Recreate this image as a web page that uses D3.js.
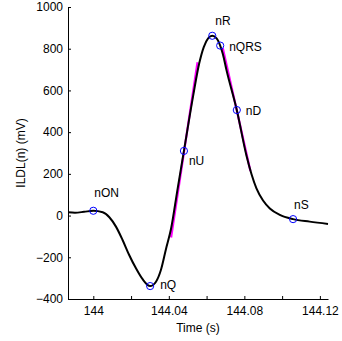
<!DOCTYPE html>
<html>
<head>
<meta charset="utf-8">
<script src="https://cdn.jsdelivr.net/npm/d3@7"></script>
<style>
  body { margin: 0; background: #fff; }
  text { font-family: "Liberation Sans", Arial, sans-serif; }
</style>
</head>
<body>
<div id="chart"></div>
<script>
// ECG signal (seconds, mV)
const ecgTime = [143.9866, 143.9903, 143.9951, 144.0000, 144.0050, 144.0085, 144.0120, 144.0155,
  144.0190, 144.0226, 144.0261, 144.0301, 144.0332, 144.0358, 144.0385, 144.0412, 144.0445, 144.0480,
  144.0529, 144.0561, 144.0585, 144.0608, 144.0630, 144.0653, 144.0672, 144.0686, 144.0706, 144.0760,
  144.0811, 144.0838, 144.0864, 144.0899, 144.0935, 144.0988, 144.1058, 144.1146, 144.1243];
const ecgValue = [16, 14, 18, 23, 16, -8, -53, -117,
  -189, -253, -305, -338, -317, -261, -160, -62, 120, 310,
  575, 730, 808, 850, 862, 850, 815, 775, 695, 506,
  288, 198, 130, 72, 34, 3, -17, -29, -40];

// fiducial points
const markerNames = ["nON", "nQ", "nU", "nR", "nQRS", "nD", "nS"];
const markerTime = [144.0000, 144.0301, 144.0480, 144.0630, 144.0672, 144.0760, 144.1058];
const markerValue = [23, -338, 310, 862, 815, 506, -17];

// tangent segments at the up- and down-stroke
const upTangentTime = [144.0412, 144.0552];
const upTangentValue = [-105, 735];
const downTangentTime = [144.0686, 144.0832];
const downTangentValue = [802, 214];

const xTicks = [144, 144.02, 144.04, 144.06, 144.08, 144.1, 144.12];
const xTickLabels = ["144", "", "144.04", "", "144.08", "", "144.12"];
const yTicks = [-400, -200, 0, 200, 400, 600, 800, 1000];

const W = 342, H = 341;
const margin = { top: 7, right: 14, bottom: 42, left: 68 };
const width = W - margin.left - margin.right;
const height = H - margin.top - margin.bottom;

const svg = d3.select("#chart").append("svg")
  .attr("width", W).attr("height", H)
  .append("g")
  .attr("transform", `translate(${margin.left},${margin.top})`);

const x = d3.scaleLinear().domain([143.9866, 144.1243]).range([0, width]);
const y = d3.scaleLinear().domain([-400, 1000]).range([height, 0]);

// axes (ticks inward, matlab style)
const xAxis = svg.append("g")
  .attr("transform", `translate(0,${height})`)
  .call(d3.axisBottom(x).tickValues(xTicks).tickSizeInner(-3).tickSizeOuter(0).tickPadding(7)
    .tickFormat((d, i) => xTickLabels[i]));
const yAxis = svg.append("g")
  .call(d3.axisLeft(y).tickValues(yTicks).tickSizeInner(-3).tickSizeOuter(0).tickPadding(5)
    .tickFormat(d3.format("d")));
[xAxis, yAxis].forEach(a => {
  a.selectAll("text").attr("font-size", 12).attr("fill", "#000")
    .attr("font-family", '"Liberation Sans", Arial, sans-serif');
  a.selectAll("line,path").attr("stroke", "#000");
});

// axis titles
svg.append("text")
  .attr("x", width / 2).attr("y", height + 32.7)
  .attr("text-anchor", "middle").attr("font-size", 12)
  .text("Time (s)");
svg.append("text")
  .attr("transform", "rotate(-90)")
  .attr("x", -height / 2).attr("y", 21 - margin.left + 4)
  .attr("text-anchor", "middle").attr("font-size", 12)
  .text("ILDL(n) (mV)");

// tangent lines (drawn under the signal)
const seg = d3.line().x(d => x(d[0])).y(d => y(d[1]));
[[upTangentTime, upTangentValue], [downTangentTime, downTangentValue]].forEach(([t, v]) => {
  svg.append("path")
    .datum(t.map((d, i) => [d, v[i]]))
    .attr("fill", "none")
    .attr("stroke", "#ff00ff")
    .attr("stroke-width", 2.2)
    .attr("d", seg);
});

// signal
const line = d3.line()
  .x(d => x(d[0])).y(d => y(d[1]))
  .curve(d3.curveMonotoneX);
svg.append("path")
  .datum(ecgTime.map((d, i) => [d, ecgValue[i]]))
  .attr("fill", "none")
  .attr("stroke", "#000")
  .attr("stroke-width", 2)
  .attr("d", line);

// markers
const labelOffset = { nON: [1, -13.5], nQ: [10, 3], nU: [5, 14], nR: [3, -11], nQRS: [9, 5], nD: [9, 5], nS: [1, -10] };
markerNames.forEach((name, i) => {
  const cx = x(markerTime[i]), cy = y(markerValue[i]);
  svg.append("circle")
    .attr("cx", cx).attr("cy", cy).attr("r", 3.6)
    .attr("fill", "none").attr("stroke", "#0000ff").attr("stroke-width", 1);
  svg.append("text")
    .attr("x", cx + labelOffset[name][0])
    .attr("y", cy + labelOffset[name][1])
    .attr("font-size", 12)
    .text(name);
});
</script>
</body>
</html>
